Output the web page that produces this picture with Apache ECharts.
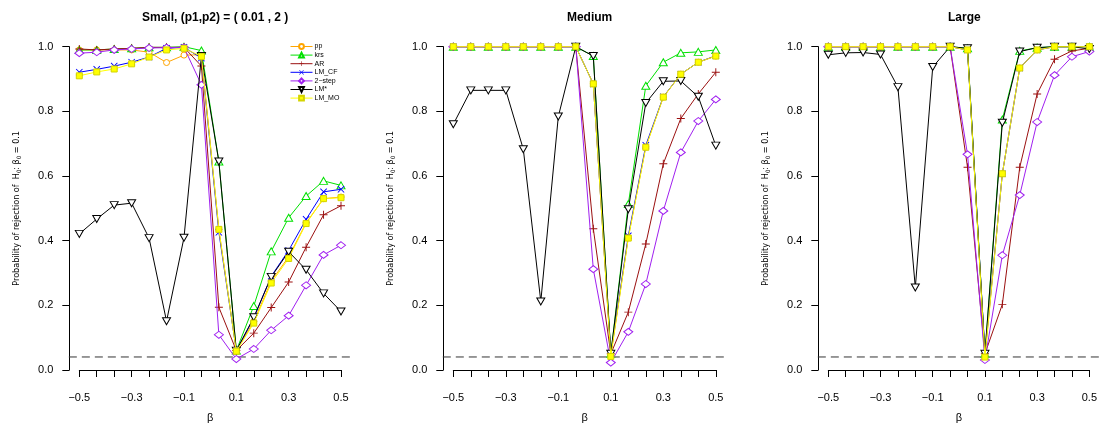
<!DOCTYPE html>
<html><head><meta charset="utf-8">
<script src="https://cdn.jsdelivr.net/npm/echarts@6/dist/echarts.min.js"></script>
<style>html,body{margin:0;padding:0;background:#fff}#c{width:1100px;height:428px}</style>
</head><body><div id="c"></div>
<script>
// ---- data ----
const betaValues = ['-0.5','-0.433','-0.367','-0.3','-0.233','-0.167','-0.1','-0.033','0.033','0.1','0.167','0.233','0.3','0.367','0.433','0.5'];
const yTickValues = [0, 0.2, 0.4, 0.6, 0.8, 1.0];
const panelTitles = ['Small, (p1,p2) = ( 0.01 , 2 )', 'Medium', 'Large'];
const methodNames = ['pp', 'krs', 'AR', 'LM_CF', '2\u2212step', 'LM*', 'LM_MO'];
const refLevel = 0.05;

const small_pp    = [0.99, 0.99, 0.99, 0.99, 0.983, 0.951, 0.974, 0.975, 0.435, 0.06, 0.15, 0.275, 0.35, 0.455, 0.53, 0.535];
const small_krs   = [0.99, 0.99, 0.993, 0.995, 0.998, 0.998, 1.0, 0.988, 0.645, 0.06, 0.198, 0.367, 0.471, 0.538, 0.585, 0.571];
const small_AR    = [0.993, 0.99, 0.993, 0.995, 0.998, 0.998, 0.998, 0.94, 0.194, 0.06, 0.114, 0.193, 0.272, 0.38, 0.48, 0.508];
const small_LMCF  = [0.921, 0.93, 0.94, 0.952, 0.968, 0.995, 0.998, 0.965, 0.426, 0.06, 0.16, 0.29, 0.37, 0.466, 0.551, 0.559];
const small_2step = [0.98, 0.983, 0.99, 0.993, 0.996, 0.997, 0.998, 0.882, 0.109, 0.034, 0.065, 0.123, 0.168, 0.262, 0.356, 0.386];
const small_LMs   = [0.421, 0.467, 0.51, 0.516, 0.408, 0.151, 0.409, 0.971, 0.645, 0.06, 0.163, 0.288, 0.366, 0.31, 0.237, 0.181];
const small_LMMO  = [0.91, 0.922, 0.931, 0.947, 0.968, 0.99, 0.995, 0.97, 0.435, 0.058, 0.145, 0.269, 0.345, 0.453, 0.53, 0.533];

const medium_pp    = [1, 1, 1, 1, 1, 1, 1, 1, 0.885, 0.045, 0.41, 0.69, 0.844, 0.915, 0.952, 0.971];
const medium_krs   = [1, 1, 1, 1, 1, 1, 1, 1, 0.971, 0.05, 0.513, 0.879, 0.952, 0.981, 0.984, 0.99];
const medium_AR    = [1, 1, 1, 1, 1, 1, 1, 1, 0.437, 0.05, 0.179, 0.39, 0.638, 0.778, 0.854, 0.921];
const medium_LMCF  = [1, 1, 1, 1, 1, 1, 1, 1, 0.885, 0.05, 0.415, 0.695, 0.845, 0.915, 0.952, 0.972];
const medium_2step = [1, 1, 1, 1, 1, 1, 1, 1, 0.312, 0.023, 0.118, 0.266, 0.492, 0.673, 0.77, 0.837];
const medium_LMs   = [0.76, 0.865, 0.865, 0.865, 0.683, 0.212, 0.784, 1.0, 0.971, 0.05, 0.497, 0.826, 0.893, 0.894, 0.845, 0.694];
const medium_LMMO  = [1, 1, 1, 1, 1, 1, 1, 1, 0.885, 0.042, 0.408, 0.689, 0.844, 0.915, 0.952, 0.971];

const large_pp    = [1, 1, 1, 1, 1, 1, 1, 1, 0.99, 0.04, 0.607, 0.934, 0.99, 1, 1, 1];
const large_krs   = [1, 1, 1, 1, 1, 1, 1, 1, 0.995, 0.05, 0.775, 0.987, 0.997, 1, 1, 1];
const large_AR    = [1, 1, 1, 1, 1, 1, 1, 1, 0.627, 0.05, 0.203, 0.627, 0.854, 0.961, 0.987, 0.995];
const large_LMCF  = [1, 1, 1, 1, 1, 1, 1, 1, 0.99, 0.05, 0.607, 0.934, 0.99, 1, 1, 1];
const large_2step = [1, 1, 1, 1, 1, 1, 1, 1, 0.667, 0.031, 0.355, 0.541, 0.767, 0.912, 0.969, 0.985];
const large_LMs   = [0.975, 0.981, 0.982, 0.976, 0.875, 0.255, 0.937, 1.0, 0.995, 0.05, 0.765, 0.985, 0.997, 1, 1, 0.993];
const large_LMMO  = [1, 1, 1, 1, 1, 1, 1, 1, 0.99, 0.04, 0.607, 0.934, 0.99, 1, 1, 1];

const panelData = [
  [small_pp, small_krs, small_AR, small_LMCF, small_2step, small_LMs, small_LMMO],
  [medium_pp, medium_krs, medium_AR, medium_LMCF, medium_2step, medium_LMs, medium_LMMO],
  [large_pp, large_krs, large_AR, large_LMCF, large_2step, large_LMs, large_LMMO]
];

// ---- styles / layout ----
const methodStyles = [
  {color: '#ffa500', symbol: 'circle', size: 6, fill: '#fff'},
  {color: '#00e000', symbol: 'triangle', size: [8, 7], fill: '#fff'},
  {color: '#9b1010', symbol: 'path://M4.4,0H5.6V10H4.4Z M0,4.4H10V5.6H0Z', size: 8, bw: 0},
  {color: '#0000ff', symbol: 'path://M0,0.9L0.9,0L10,9.1L9.1,10Z M9.1,0L10,0.9L0.9,10L0,9.1Z', size: 7, bw: 0},
  {color: '#a020f0', symbol: 'diamond', size: [9, 7], fill: '#fff'},
  {color: '#000000', symbol: 'triangle', size: [8, 7], rotate: 180, fill: '#fff'},
  {color: '#ffff00', symbol: 'rect', size: 6, fill: '#ffff00', border: '#d4d400'}
];
const FONT = "'Liberation Sans', Arial, Helvetica, sans-serif";
const NARROW = "'Liberation Sans Narrow', 'DejaVu Sans Condensed', 'Liberation Sans', sans-serif";
const panels = [{left: 79.3, width: 261.7}, {left: 453.3, width: 262.5}, {left: 828.3, width: 262.1}];
const top0 = 46.7, h0 = 326.6;

const grid = [], xAxis = [], yAxis = [], series = [], title = [];
panels.forEach((p, i) => {
  grid.push({left: p.left, top: top0, width: p.width, height: h0});
  grid.push({left: p.left - 0.04 * p.width, top: top0 - 0.04 * h0, width: p.width * 1.08, height: h0 * 1.08});
  title.push({text: panelTitles[i], left: p.left + p.width / 2, top: 7, textAlign: 'center',
    textStyle: {fontFamily: FONT, fontSize: 12, fontWeight: 'bold', color: '#000'}});
  xAxis.push({
    type: 'category', gridIndex: 2 * i, data: betaValues, boundaryGap: false, offset: 13,
    axisLine: {lineStyle: {color: '#000', width: 1}},
    axisTick: {interval: 0, length: 7, lineStyle: {color: '#000'}},
    axisLabel: {interval: 2, margin: 9, fontFamily: FONT, fontSize: 11, color: '#000',
      formatter: v => Number(v).toFixed(1).replace('-', '\u2212')},
    splitLine: {show: false},
    name: '\u03b2', nameLocation: 'middle', nameGap: 29,
    nameTextStyle: {fontFamily: FONT, fontSize: 11, color: '#000'}
  });
  xAxis.push({type: 'value', gridIndex: 2 * i + 1, min: -0.54, max: 0.54, show: false});
  yAxis.push({
    type: 'value', gridIndex: 2 * i, min: yTickValues[0], max: yTickValues[yTickValues.length - 1], interval: 0.2, offset: 10,
    axisLine: {show: true, lineStyle: {color: '#000', width: 1}},
    axisTick: {show: true, length: 7, lineStyle: {color: '#000'}},
    axisLabel: {margin: 16, fontFamily: FONT, fontSize: 11, color: '#000', formatter: v => v.toFixed(1)},
    splitLine: {show: false},
    name: 'Probability of rejection of  H{sub|0}: \u03b2{sub|0} = 0.1',
    nameLocation: 'middle', nameRotate: 90, nameGap: 47,
    nameTextStyle: {fontFamily: NARROW, fontSize: 9, color: '#000',
      rich: {sub: {fontFamily: NARROW, fontSize: 6, color: '#000', padding: [5, 0, 0, 0]}}}
  });
  yAxis.push({type: 'value', gridIndex: 2 * i + 1, min: -0.04, max: 1.04, show: false});

  series.push({
    type: 'line', xAxisIndex: 2 * i + 1, yAxisIndex: 2 * i + 1, silent: true, symbol: 'none',
    data: [[-0.54, refLevel], [0.54, refLevel]],
    lineStyle: {color: '#333', width: 1, type: [8, 5]}, z: 1
  });
  panelData[i].forEach((vals, m) => {
    const st = methodStyles[m];
    series.push({
      type: 'line', name: methodNames[m], xAxisIndex: 2 * i, yAxisIndex: 2 * i,
      data: vals, symbol: st.symbol, symbolSize: st.size, symbolRotate: st.rotate || 0,
      showAllSymbol: true, clip: false,
      lineStyle: {color: st.color, width: 1},
      itemStyle: {color: st.fill || st.color, borderColor: st.border || st.color,
        borderWidth: st.bw === undefined ? 1 : st.bw},
      z: 2 + m
    });
  });
});

const chart = echarts.init(document.getElementById('c'), null, {renderer: 'canvas'});
chart.setOption({
  animation: false,
  backgroundColor: '#fff',
  title, grid, xAxis, yAxis, series,
  legend: {
    data: methodNames, orient: 'vertical', left: 285, top: 38,
    itemWidth: 22, itemHeight: 6, itemGap: 1.6,
    lineStyle: {width: 1},
    textStyle: {fontFamily: FONT, fontSize: 7, color: '#000', padding: [0, 0, 0, -3]},
    selectedMode: false
  }
});
</script></body></html>
